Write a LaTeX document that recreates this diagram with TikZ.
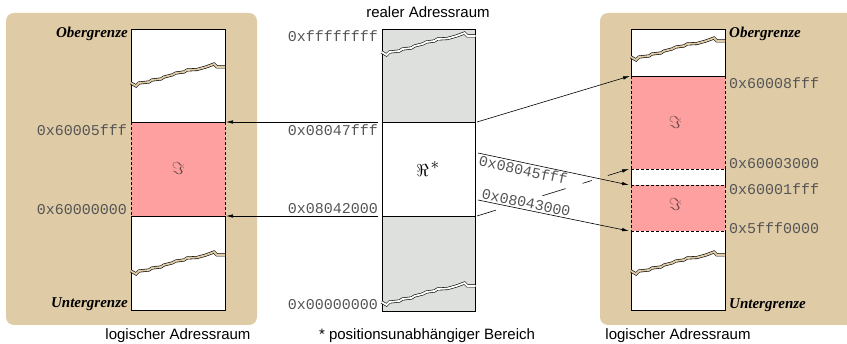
\documentclass[tikz,border=0pt]{standalone}
\usepackage{fontspec}
\setmainfont{Liberation Serif}
\setsansfont{Liberation Sans}
\setmonofont{Liberation Mono}
\usetikzlibrary{arrows.meta,calc}
\definecolor{paneltan}{HTML}{DFCBA6}
\definecolor{memred}{HTML}{FFA0A0}
\definecolor{memgray}{HTML}{DDE0DC}
\definecolor{hexgray}{HTML}{555555}
\definecolor{imcol}{HTML}{6A4A4A}
\newcommand{\brkline}[3]{%
  \draw[line width=0.6pt, double=#3, double distance=1.8pt]
    (#1,#2) -- ++(5,3) -- ++(3,-3) -- ++(10,-1) -- ++(3,-2) -- ++(9,-1)
    -- ++(3,-2) -- ++(8,-2) -- ++(4,-2) -- ++(8,-1) -- ++(3,-2) -- ++(10,-0.5)
    -- ++(9,-2.5) -- ++(8,-3) -- ++(3,3) -- ++(8,0);}
\tikzset{
  hexlbl/.style={font=\fontsize{15}{18}\selectfont\ttfamily, text=hexgray, inner sep=0pt},
  boundlbl/.style={font=\fontsize{15}{18}\selectfont\bfseries\itshape, inner sep=0pt},
  captionlbl/.style={font=\fontsize{15}{18}\selectfont\sffamily, inner sep=0pt},
  arr/.style={-{Latex[length=7pt,width=3.5pt]}, line width=0.6pt},
  plainline/.style={line width=0.6pt},
  panel/.style={fill=paneltan, rounded corners=8pt},
  colbox/.style={draw, line width=0.8pt},
  dashedge/.style={line width=0.8pt, dash pattern=on 3pt off 2pt},
  symlbl/.style={font=\fontsize{16}{18}\selectfont, inner sep=0pt},
}
\begin{document}
\begin{tikzpicture}[x=1pt,y=-1pt]
\useasboundingbox (0,0) rectangle (847,344);
\clip (0,0) rectangle (847,344);

% panels
\path[panel] (6,13) rectangle (257,325);
\path[panel] (600,13) rectangle (860,325);

% ---- left column
\fill[white] (131,29) rectangle (225,310);
\fill[memred] (131,122) rectangle (225,216);
\draw[colbox] (131,29) rectangle (225,122);
\draw[colbox] (131,216) rectangle (225,310);
\draw[dashedge] (131,122) -- (131,216) (225,122) -- (225,216);
\brkline{131}{83}{paneltan}
\brkline{131}{271}{paneltan}

% ---- right column
\fill[white] (631,29) rectangle (725,310);
\fill[memred] (631,76) rectangle (725,169);
\fill[memred] (631,185) rectangle (725,231);
\draw[colbox] (631,76) -- (631,29) -- (725,29) -- (725,76) -- cycle;
\draw[colbox] (631,169) -- (631,185) (725,169) -- (725,185);
\draw[colbox] (631,231) -- (631,310) -- (725,310) -- (725,231);
\draw[dashedge] (631,76) -- (631,169) (725,76) -- (725,169)
  (631,169) -- (725,169) (631,185) -- (725,185)
  (631,185) -- (631,231) (725,185) -- (725,231) (631,231) -- (725,231);
\brkline{631}{57}{paneltan}
\brkline{631}{271}{paneltan}

% ---- center column
\fill[memgray] (382,29) rectangle (475,311);
\fill[white] (382,122) rectangle (475,216);
\draw[colbox] (382,29) rectangle (475,311);
\draw[colbox] (382,122) -- (475,122) (382,216) -- (475,216);
\brkline{381.5}{52}{white}
\brkline{381.5}{302}{white}

% ---- symbols
\node[symlbl, text=imcol] (imL) at (178,169) {$\Im$};
\node[symlbl, text=imcol] (imR1) at (675,123) {$\Im$};
\node[symlbl, text=imcol] (imR2) at (675,205) {$\Im$};
\node[symlbl] (reC) at (428,169) {$\Re^{\,\textstyle *}$};

% ---- labels left
\node[boundlbl, anchor=east] (obL) at (128,34) {Obergrenze};
\node[boundlbl, anchor=east] (unL) at (128,304) {Untergrenze};
\node[hexlbl, anchor=east] (l5fff) at (127,130) {0x60005fff};
\node[hexlbl, anchor=east] (l0000) at (127,210) {0x60000000};

% ---- labels center
\node[hexlbl, anchor=east] (cffff) at (378,36) {0xffffffff};
\node[hexlbl, anchor=east] (c47) at (378,130) {0x08047fff};
\node[hexlbl, anchor=east] (c42) at (378,209) {0x08042000};
\node[hexlbl, anchor=east] (c00) at (378,305) {0x00000000};

% ---- labels right
\node[boundlbl, anchor=west] (obR) at (729,34) {Obergrenze};
\node[boundlbl, anchor=west] (unR) at (729,305) {Untergrenze};
\node[hexlbl, anchor=west] (r8fff) at (729,83) {0x60008fff};
\node[hexlbl, anchor=west] (r3000) at (729,164) {0x60003000};
\node[hexlbl, anchor=west] (r1fff) at (729,189) {0x60001fff};
\node[hexlbl, anchor=west] (r5fff) at (729,228) {0x5fff0000};

% ---- captions
\node[captionlbl] (capTop) at (428,12) {realer Adressraum};
\node[captionlbl] (capL) at (178,336) {logischer Adressraum};
\node[captionlbl] (capC) at (427,336) {* positionsunabh\"angiger Bereich};
\node[captionlbl] (capR) at (678,336) {logischer Adressraum};

% ---- connector end points
\coordinate (s47) at (378,122);
\coordinate (s42) at (378,216);
\coordinate (tL47) at (226,122);
\coordinate (tL42) at (226,216);
\coordinate (a1s) at (477,122);
\coordinate (a1e) at (630,76);
\coordinate (a2s) at (478,153);
\coordinate (a2e) at (629,185);
\coordinate (a3s) at (478,200);
\coordinate (a3e) at (629,231);
\coordinate (a4s) at (477,216);
\coordinate (a4e) at (629,169);

% ---- arrows
\draw[arr] (s47) -- (tL47);
\draw[arr] (s42) -- (tL42);
\draw[arr] (a1s) -- (a1e);
\draw[arr] (a2s) -- node[hexlbl, sloped, below, pos=0.31, inner sep=1.5pt] (lbl45) {0x08045fff} (a2e);
\draw[arr] (a3s) -- node[hexlbl, sloped, above, pos=0.31, inner sep=1.5pt] (lbl43) {0x08043000} (a3e);
% interrupted arrow (hidden behind labels and crossing)
\draw[plainline] ($(a4s)!0!(a4e)$) -- ($(a4s)!0.126!(a4e)$);
\draw[plainline] ($(a4s)!0.43!(a4e)$) -- ($(a4s)!0.583!(a4e)$);
\draw[plainline] ($(a4s)!0.695!(a4e)$) -- ($(a4s)!0.755!(a4e)$);
\draw[arr] ($(a4s)!0.861!(a4e)$) -- (a4e);
\end{tikzpicture}
\end{document}
